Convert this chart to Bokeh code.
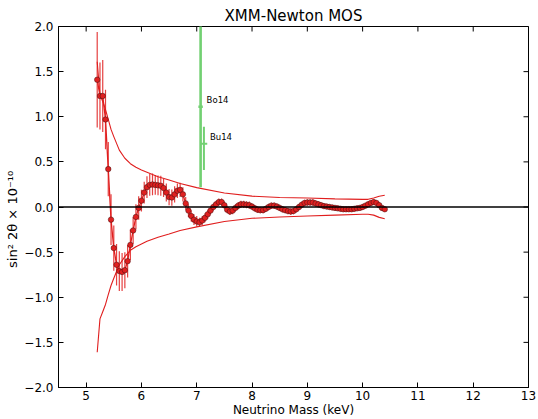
import math
from bokeh.plotting import figure
from bokeh.models import Range1d, FixedTicker, Span, Label, ColumnDataSource
from bokeh.embed import file_html
from bokeh.resources import INLINE

# ---------------- data ----------------
mass = [5.20, 5.25, 5.30, 5.35, 5.40, 5.45, 5.50, 5.55, 5.60, 5.65,
        5.70, 5.75, 5.80, 5.85, 5.90, 5.95, 6.00, 6.05, 6.10, 6.15,
        6.20, 6.25, 6.30, 6.35, 6.40, 6.45, 6.50, 6.55, 6.60, 6.65,
        6.70, 6.75, 6.80, 6.85, 6.90, 6.95, 7.00, 7.05, 7.10, 7.15,
        7.20, 7.25, 7.30, 7.35, 7.40, 7.45, 7.50, 7.55, 7.60, 7.65,
        7.70, 7.75, 7.80, 7.85, 7.90, 7.95, 8.00, 8.05, 8.10, 8.15,
        8.20, 8.25, 8.30, 8.35, 8.40, 8.45, 8.50, 8.55, 8.60, 8.65,
        8.70, 8.75, 8.80, 8.85, 8.90, 8.95, 9.00, 9.05, 9.10, 9.15,
        9.20, 9.25, 9.30, 9.35, 9.40, 9.45, 9.50, 9.55, 9.60, 9.65,
        9.70, 9.75, 9.80, 9.85, 9.90, 9.95, 10.00, 10.05, 10.10, 10.15,
        10.20, 10.25, 10.30, 10.35, 10.40]

sin2 = [1.41, 1.23, 1.23, 0.97, 0.42, -0.14, -0.455, -0.64, -0.71, -0.72,
        -0.70, -0.60, -0.42, -0.26, -0.11, -0.01, 0.07, 0.16, 0.22, 0.245,
        0.25, 0.245, 0.24, 0.235, 0.21, 0.16, 0.11, 0.105, 0.14, 0.18,
        0.19, 0.14, 0.04, -0.04, -0.10, -0.14, -0.16, -0.17, -0.15, -0.12,
        -0.08, -0.04, 0.00, 0.03, 0.055, 0.055, 0.02, -0.03, -0.05, -0.04,
        -0.01, 0.015, 0.03, 0.03, 0.025, 0.02, 0.005, -0.015, -0.03, -0.035,
        -0.035, -0.02, 0.00, 0.015, 0.015, 0.005, -0.01, -0.025, -0.035, -0.045,
        -0.05, -0.045, -0.025, 0.00, 0.025, 0.045, 0.05, 0.05, 0.05, 0.04,
        0.03, 0.02, 0.01, 0.005, 0.00, -0.005, -0.01, -0.015, -0.02, -0.025,
        -0.025, -0.025, -0.025, -0.02, -0.015, -0.01, 0.00, 0.015, 0.03, 0.045,
        0.055, 0.045, 0.02, -0.01, -0.025]

sin2_err = [0.53, 0.37, 0.40, 0.33, 0.30, 0.28, 0.25, 0.23, 0.22, 0.21,
            0.20, 0.18, 0.17, 0.15, 0.14, 0.13, 0.12, 0.12, 0.12, 0.12,
            0.12, 0.11, 0.11, 0.11, 0.10, 0.10, 0.09, 0.09, 0.09, 0.08,
            0.08, 0.08, 0.07, 0.07, 0.06, 0.06, 0.06, 0.05, 0.05, 0.05,
            0.05, 0.04, 0.04, 0.04, 0.04, 0.04, 0.04, 0.04, 0.04, 0.04,
            0.04, 0.04, 0.04, 0.04, 0.04, 0.04, 0.035, 0.035, 0.035, 0.035,
            0.035, 0.035, 0.035, 0.035, 0.035, 0.035, 0.035, 0.035, 0.035, 0.035,
            0.035, 0.035, 0.035, 0.035, 0.035, 0.035, 0.035, 0.035, 0.035, 0.035,
            0.035, 0.03, 0.03, 0.03, 0.03, 0.03, 0.03, 0.03, 0.03, 0.03,
            0.03, 0.03, 0.03, 0.03, 0.03, 0.03, 0.03, 0.03, 0.03, 0.03,
            0.03, 0.03, 0.03, 0.03, 0.03]
mass_halfbin = 0.025

env_mass = [5.20, 5.25, 5.30, 5.35, 5.40, 5.45, 5.50, 5.60, 5.70, 5.80,
            5.90, 6.00, 6.10, 6.30, 6.50, 6.70, 7.00, 7.50, 8.00, 8.50,
            9.00, 9.50, 10.00, 10.10, 10.20, 10.30, 10.40]
env_upper = [1.61, 1.24, 1.17, 1.08, 0.97, 0.86, 0.78, 0.63, 0.54, 0.48,
             0.44, 0.41, 0.385, 0.335, 0.30, 0.26, 0.215, 0.155, 0.12, 0.105,
             0.10, 0.09, 0.085, 0.085, 0.10, 0.12, 0.13]
env_lower = [-1.61, -1.24, -1.16, -1.08, -0.97, -0.87, -0.79, -0.64, -0.55, -0.48,
             -0.44, -0.41, -0.38, -0.335, -0.30, -0.26, -0.22, -0.16, -0.125, -0.11,
             -0.10, -0.09, -0.08, -0.08, -0.09, -0.115, -0.13]

lit_names = ["Bo14", "Bu14"]
lit_mass = [7.07, 7.13]
lit_sin2 = [1.11, 0.70]
lit_low = [0.22, 0.41]
lit_high = [2.05, 0.89]
lit_dmass = [0.04, 0.06]
lit_width = [2.6, 2.0]

x_ticks = [5, 6, 7, 8, 9, 10, 11, 12, 13]
y_ticks = [-2.0, -1.5, -1.0, -0.5, 0.0, 0.5, 1.0, 1.5, 2.0]
y_tick_labels = ["\u22122.0", "\u22121.5", "\u22121.0", "\u22120.5", "0.0", "0.5", "1.0", "1.5", "2.0"]

# ---------------- figure ----------------
RED = "#e01e1e"
GREEN = "#72d072"
FONT = "DejaVu Sans"

p = figure(width=538, height=419, x_range=Range1d(4.5, 13), y_range=Range1d(-2, 2),
           output_backend="svg", toolbar_location=None,
           min_border_left=58, min_border_right=10, min_border_top=26, min_border_bottom=30)
p.grid.visible = False
p.outline_line_color = "black"
p.outline_line_width = 1
p.background_fill_color = "white"
p.border_fill_color = "white"

p.title.text = "XMM-Newton MOS"
p.title.align = "center"
p.title.text_font = FONT
p.title.text_font_size = "15px"
p.title.text_font_style = "normal"
p.title.text_color = "black"
p.title.standoff = 3

for ax in (p.xaxis[0], p.yaxis[0]):
    ax.major_tick_in = 5
    ax.major_tick_out = 0
    ax.minor_tick_line_color = None
    ax.axis_line_color = "black"
    ax.major_tick_line_color = "black"
    ax.major_label_text_font = FONT
    ax.major_label_text_font_size = "12px"
    ax.major_label_text_color = "black"
    ax.axis_label_text_font = FONT
    ax.axis_label_text_font_size = "12px"
    ax.axis_label_text_font_style = "normal"
    ax.axis_label_text_color = "black"

xa = p.xaxis[0]
xa.ticker = FixedTicker(ticks=x_ticks)
xa.major_label_standoff = 3
xa.axis_label = "Neutrino Mass (keV)"
xa.axis_label_standoff = 0

ya = p.yaxis[0]
ya.ticker = FixedTicker(ticks=y_ticks)
ya.major_label_overrides = dict(zip(y_ticks, y_tick_labels))
ya.major_label_standoff = 5
ya.axis_label = "sin\u00b2 2\u03b8     \u00d7   10\u207b\u00b9\u2070"
ya.axis_label_text_font_size = "13px"
ya.axis_label_standoff = 1

# inward ticks on the top and right frame edges (half of each dash is clipped by the frame)
p.scatter(x=x_ticks, y=[y_ticks[-1]] * len(x_ticks), marker="dash", size=10,
          angle=math.pi / 2, line_color="black", line_width=1)
p.scatter(x=[x_ticks[-1]] * len(y_ticks), y=y_ticks, marker="dash", size=10,
          angle=0, line_color="black", line_width=1)

# zero line
p.add_layout(Span(location=0, dimension="width", line_color="black", line_width=1.3))

# sensitivity envelope
p.line(env_mass, env_upper, line_color=RED, line_width=1.1)
p.line(env_mass, env_lower, line_color=RED, line_width=1.1)

# data with error bars
src = ColumnDataSource(dict(
    m=mass, s=sin2,
    lo=[v - e for v, e in zip(sin2, sin2_err)],
    hi=[v + e for v, e in zip(sin2, sin2_err)],
    ml=[m - mass_halfbin for m in mass],
    mr=[m + mass_halfbin for m in mass],
))
p.segment(x0="m", y0="lo", x1="m", y1="hi", source=src, line_color=RED, line_width=1.2, line_alpha=0.85)
p.segment(x0="ml", y0="s", x1="mr", y1="s", source=src, line_color=RED, line_width=1.0, line_alpha=0.85)
p.line("m", "s", source=src, line_color=RED, line_width=1.3)
p.scatter("m", "s", source=src, size=5.5, fill_color="#e02020", line_color="#401010", line_width=0.5)

# literature points
for name, m, s, lo, hi, dm, w in zip(lit_names, lit_mass, lit_sin2, lit_low, lit_high, lit_dmass, lit_width):
    p.segment(x0=[m], y0=[lo], x1=[m], y1=[hi], line_color=GREEN, line_width=w)
    p.segment(x0=[m - dm], y0=[s], x1=[m + dm], y1=[s], line_color=GREEN, line_width=w)
    p.add_layout(Label(x=m, y=s, text=name, x_offset=6, y_offset=7, text_font=FONT,
                       text_font_size="8.5px", text_color="black", text_baseline="middle"))

open("out.html", "w").write(file_html(p, INLINE))
